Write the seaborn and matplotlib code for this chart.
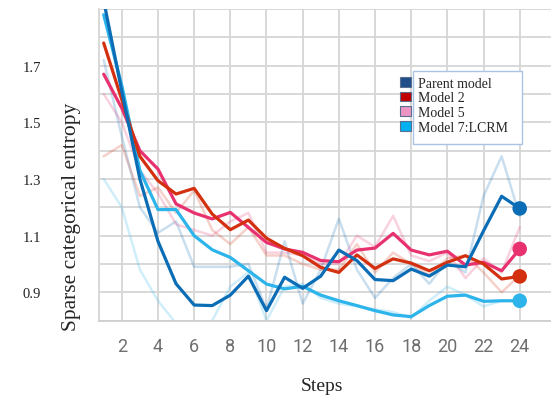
import pandas as pd
import matplotlib.pyplot as plt
import seaborn as sns
from matplotlib.patches import Patch, Rectangle

# values
steps = list(range(1, 25))
models = ["Parent model", "Model 2", "Model 5", "Model 7:LCRM"]

parent = [1.93, 1.61, 1.30, 1.08, 0.93, 0.855, 0.853, 0.89, 0.957, 0.835, 0.953, 0.914,
          0.957, 1.049, 1.012, 0.945, 0.941, 0.982, 0.957, 0.996, 0.99, 1.117, 1.239, 1.196]
model2 = [1.78, 1.58, 1.38, 1.294, 1.247, 1.267, 1.176, 1.121, 1.155, 1.091, 1.055, 1.029,
          0.988, 0.97, 1.032, 0.984, 1.018, 1.003, 0.976, 1.006, 1.029, 1.0, 0.947, 0.956]
model5 = [1.67, 1.55, 1.40, 1.335, 1.212, 1.18, 1.159, 1.182, 1.129, 1.076, 1.053, 1.041,
          1.012, 1.008, 1.049, 1.056, 1.108, 1.049, 1.032, 1.045, 0.996, 1.006, 0.976, 1.053]
model7 = [1.88, 1.63, 1.33, 1.192, 1.192, 1.10, 1.05, 1.023, 0.976, 0.929, 0.912, 0.921,
          0.89, 0.87, 0.853, 0.835, 0.82, 0.814, 0.853, 0.886, 0.89, 0.868, 0.87, 0.87]

# unsmoothed runs drawn faintly behind
parent_raw = [1.72, 1.45, 1.20, 1.11, 1.15, 0.99, 0.99, 0.99, 1.00, 0.84, 1.08, 0.86,
              0.98, 1.16, 0.98, 0.88, 0.95, 1.00, 0.93, 1.01, 0.97, 1.24, 1.38, 1.17]
model2_raw = [1.38, 1.42, 1.24, 1.27, 1.18, 1.26, 1.12, 1.07, 1.13, 1.03, 1.03, 1.00,
              0.98, 0.98, 1.07, 0.97, 1.04, 1.00, 0.96, 1.02, 1.03, 0.97, 0.90, 0.96]
model5_raw = [1.60, 1.50, 1.33, 1.25, 1.14, 1.12, 1.10, 1.15, 1.18, 1.04, 1.04, 1.03,
              1.00, 1.00, 1.10, 1.06, 1.17, 1.03, 1.01, 1.04, 0.95, 1.02, 0.97, 1.13]
model7_raw = [1.30, 1.20, 0.98, 0.87, 0.79, 0.76, 0.80, 0.92, 0.97, 0.80, 0.92, 0.93,
              0.88, 0.86, 0.85, 0.84, 0.83, 0.81, 0.87, 0.92, 0.89, 0.85, 0.87, 0.87]

line_colors = ["#0b6db5", "#d3300f", "#e8326f", "#2cb4eb"]
legend_colors = ["#1f4e89", "#c00000", "#ec94c4", "#00b0f0"]

smooth = pd.DataFrame({"step": steps * 4,
                       "model": sum([[m] * 24 for m in models], []),
                       "value": parent + model2 + model5 + model7})
raw = pd.DataFrame({"step": steps * 4,
                    "model": sum([[m] * 24 for m in models], []),
                    "value": parent_raw + model2_raw + model5_raw + model7_raw})
last = smooth[smooth["step"] == steps[-1]]

sns.set_style("white")
plt.rcParams["font.family"] = ["Liberation Serif", "DejaVu Serif"]

fig = plt.figure(figsize=(5.51, 4.02), dpi=100)
ax = fig.add_axes([0.18, 0.2, 0.82, 0.775])

palette = dict(zip(models, line_colors))
sns.lineplot(data=raw, x="step", y="value", hue="model", palette=palette,
             linewidth=1.8, alpha=0.22, legend=False, ax=ax)
draw_order = ["Model 7:LCRM", "Model 5", "Model 2", "Parent model"]
for m in draw_order:
    sns.lineplot(data=smooth[smooth["model"] == m], x="step", y="value",
                 color=palette[m], linewidth=2.3, legend=False, ax=ax, zorder=3)
sns.scatterplot(data=last, x="step", y="value", hue="model", palette=palette,
                s=110, edgecolor="none", legend=False, ax=ax, zorder=4)

ax.set_xlim(0.75, 25.73)
ax.set_ylim(0.8, 1.9)
ax.set_xticks(range(2, 25, 2))
yt = [round(0.8 + 0.1 * i, 1) for i in range(12)]
ax.set_yticks(yt)
ax.set_yticklabels([f"{v:.1f}" if v in (0.9, 1.1, 1.3, 1.5, 1.7) else "" for v in yt])
ax.grid(True, color="#d6d6d6", linewidth=1.3)
ax.set_axisbelow(True)
for s in ["top", "right"]:
    ax.spines[s].set_visible(False)
ax.spines["left"].set_color("#d6d6d6")
ax.spines["bottom"].set_color("#cfcfcf")
ax.spines["left"].set_linewidth(1.3)
ax.spines["bottom"].set_linewidth(1.3)

ax.tick_params(axis="x", length=6, width=1.3, color="#d6d6d6", pad=6,
               labelsize=13, labelcolor="#6e6e6e")
for lbl in ax.get_xticklabels():
    lbl.set_family(["Roboto", "DejaVu Sans"])
ax.tick_params(axis="y", length=0, pad=42, labelsize=10.5, labelcolor="#222222")

ax.set_xlabel("Steps", fontsize=14)
ax.set_ylabel("Sparse categorical entropy", fontsize=15.5)
ax.xaxis.set_label_coords(0.494, -0.18)
ax.yaxis.set_label_coords(-0.04, 0.336)

handles = [Patch(facecolor=c, edgecolor="#5a6f8f", linewidth=0.8) for c in legend_colors]
leg = ax.legend(handles, models, loc="upper left", bbox_to_anchor=(0.651, 0.805),
                frameon=False, borderpad=0, handlelength=0.75, handleheight=0.7,
                handletextpad=0.55, labelspacing=0.12, fontsize=10)
leg.set_zorder(10)

# frame around the legend texts only (handles sit outside it)
fig.canvas.draw()
inv = fig.transFigure.inverted()
boxes = [t.get_window_extent() for t in leg.get_texts()]
x0 = min(b.x0 for b in boxes) - 5
x1 = max(b.x1 for b in boxes) + 14
y0 = min(b.y0 for b in boxes) - 10
y1 = max(b.y1 for b in boxes) + 6
(fx0, fy0), (fx1, fy1) = inv.transform([(x0, y0), (x1, y1)])
ax.add_patch(Rectangle((fx0, fy0), fx1 - fx0, fy1 - fy0, transform=fig.transFigure,
                       facecolor="white", edgecolor="#aac4e6", linewidth=1.0,
                       zorder=8, clip_on=False))

fig.savefig("out.png", dpi=100)
